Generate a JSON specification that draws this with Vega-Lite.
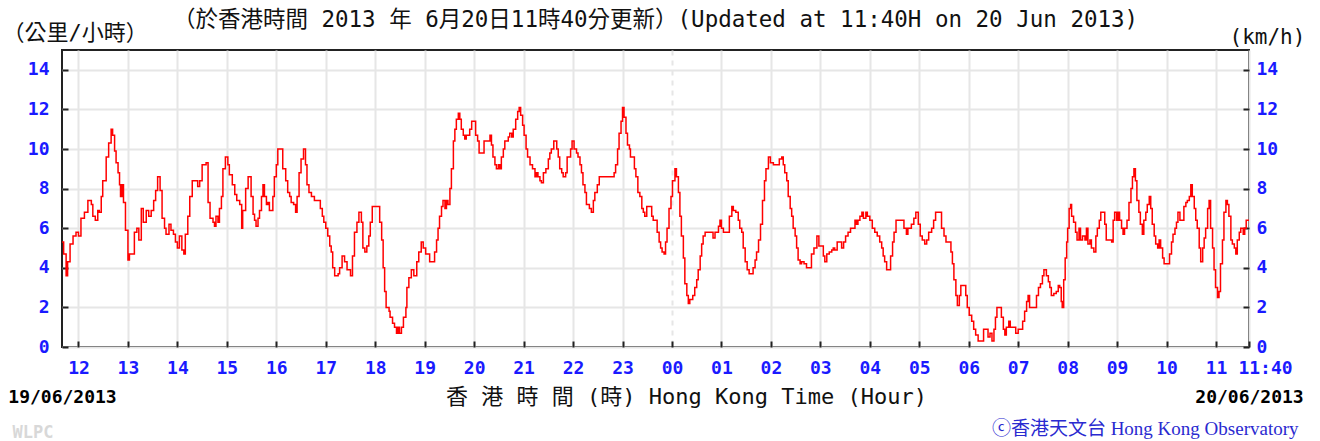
{
"$schema": "https://vega.github.io/schema/vega-lite/v6.json",
"width": 1187, "height": 297,
"autosize": {"type": "none"},
"padding": {"left": 62, "top": 50, "right": 71, "bottom": 94},
"background": "white",
"view": {"stroke": "#222222", "strokeWidth": 2},
"data": {"values": [
{"t":11.667,"v":5.3},{"t":11.70,"v":4.7},{"t":11.75,"v":3.6},{"t":11.78,"v":4.3},{"t":11.83,"v":5.2},{"t":11.89,"v":5.6},{"t":11.95,"v":5.8},{"t":12.00,"v":5.6},{"t":12.05,"v":6.5},{"t":12.12,"v":6.8},{"t":12.19,"v":7.4},{"t":12.26,"v":7.2},{"t":12.29,"v":6.6},{"t":12.34,"v":6.4},{"t":12.39,"v":6.9},{"t":12.42,"v":6.8},{"t":12.46,"v":7.6},{"t":12.49,"v":8.4},{"t":12.56,"v":9.6},{"t":12.61,"v":10.3},{"t":12.66,"v":11.0},{"t":12.69,"v":10.7},{"t":12.73,"v":9.9},{"t":12.76,"v":9.3},{"t":12.80,"v":8.8},{"t":12.83,"v":8.2},{"t":12.85,"v":7.6},{"t":12.88,"v":8.2},{"t":12.91,"v":7.3},{"t":12.95,"v":5.9},
{"t":13.00,"v":4.4},{"t":13.03,"v":4.7},{"t":13.09,"v":4.7},{"t":13.13,"v":5.8},{"t":13.18,"v":6.0},{"t":13.22,"v":5.4},{"t":13.27,"v":7.0},{"t":13.31,"v":6.3},{"t":13.37,"v":6.9},{"t":13.42,"v":6.6},{"t":13.47,"v":6.9},{"t":13.52,"v":7.4},{"t":13.56,"v":7.9},{"t":13.60,"v":8.6},{"t":13.65,"v":7.9},{"t":13.69,"v":6.5},{"t":13.74,"v":6.0},{"t":13.77,"v":5.7},{"t":13.83,"v":6.2},{"t":13.87,"v":5.9},{"t":13.92,"v":5.7},{"t":13.96,"v":5.3},
{"t":14.00,"v":5.0},{"t":14.04,"v":5.6},{"t":14.09,"v":4.9},{"t":14.13,"v":4.7},{"t":14.16,"v":5.7},{"t":14.21,"v":6.6},{"t":14.25,"v":7.6},{"t":14.30,"v":8.4},{"t":14.38,"v":8.4},{"t":14.41,"v":8.1},{"t":14.45,"v":8.4},{"t":14.50,"v":9.2},{"t":14.58,"v":9.3},{"t":14.62,"v":7.3},{"t":14.66,"v":6.5},{"t":14.72,"v":6.3},{"t":14.75,"v":6.1},{"t":14.78,"v":6.6},{"t":14.82,"v":6.3},{"t":14.85,"v":7.0},{"t":14.89,"v":7.6},{"t":14.92,"v":9.0},{"t":14.97,"v":9.6},
{"t":15.02,"v":9.2},{"t":15.05,"v":8.7},{"t":15.11,"v":8.2},{"t":15.16,"v":7.7},{"t":15.20,"v":7.4},{"t":15.26,"v":7.2},{"t":15.30,"v":6.0},{"t":15.32,"v":6.9},{"t":15.38,"v":8.0},{"t":15.43,"v":8.6},{"t":15.46,"v":8.6},{"t":15.49,"v":7.6},{"t":15.53,"v":6.7},{"t":15.56,"v":6.4},{"t":15.59,"v":6.1},{"t":15.63,"v":6.5},{"t":15.66,"v":6.9},{"t":15.70,"v":7.6},{"t":15.73,"v":8.2},{"t":15.76,"v":7.6},{"t":15.80,"v":7.2},{"t":15.83,"v":7.3},{"t":15.86,"v":6.9},{"t":15.90,"v":6.9},{"t":15.93,"v":7.6},{"t":15.96,"v":8.6},
{"t":16.00,"v":9.2},{"t":16.03,"v":10.0},{"t":16.10,"v":10.0},{"t":16.13,"v":9.0},{"t":16.19,"v":8.4},{"t":16.23,"v":7.8},{"t":16.27,"v":7.6},{"t":16.30,"v":7.3},{"t":16.35,"v":7.2},{"t":16.39,"v":6.8},{"t":16.42,"v":7.6},{"t":16.46,"v":8.8},{"t":16.50,"v":9.5},{"t":16.55,"v":10.0},{"t":16.59,"v":9.2},{"t":16.62,"v":8.2},{"t":16.66,"v":7.8},{"t":16.71,"v":7.6},{"t":16.74,"v":7.6},{"t":16.77,"v":7.4},{"t":16.84,"v":7.4},{"t":16.89,"v":7.0},{"t":16.93,"v":6.6},{"t":16.96,"v":6.3},
{"t":17.00,"v":6.0},{"t":17.04,"v":5.6},{"t":17.08,"v":5.1},{"t":17.11,"v":4.8},{"t":17.14,"v":4.0},{"t":17.18,"v":3.6},{"t":17.25,"v":3.7},{"t":17.28,"v":4.0},{"t":17.33,"v":4.6},{"t":17.38,"v":4.3},{"t":17.43,"v":3.9},{"t":17.47,"v":3.9},{"t":17.50,"v":3.6},{"t":17.54,"v":4.6},{"t":17.58,"v":5.8},{"t":17.63,"v":6.3},{"t":17.67,"v":6.8},{"t":17.72,"v":6.3},{"t":17.75,"v":5.0},{"t":17.79,"v":4.8},{"t":17.83,"v":5.1},{"t":17.87,"v":5.6},{"t":17.90,"v":6.3},{"t":17.94,"v":7.1},
{"t":18.06,"v":7.1},{"t":18.09,"v":6.3},{"t":18.13,"v":5.4},{"t":18.16,"v":4.0},{"t":18.19,"v":2.8},{"t":18.22,"v":2.0},{"t":18.28,"v":1.8},{"t":18.30,"v":1.5},{"t":18.35,"v":1.2},{"t":18.39,"v":1.0},{"t":18.43,"v":0.7},{"t":18.46,"v":1.0},{"t":18.49,"v":0.7},{"t":18.53,"v":1.0},{"t":18.57,"v":1.5},{"t":18.62,"v":2.0},{"t":18.64,"v":3.0},{"t":18.68,"v":3.5},{"t":18.73,"v":3.9},{"t":18.78,"v":3.6},{"t":18.82,"v":3.6},{"t":18.84,"v":4.3},{"t":18.88,"v":4.8},{"t":18.93,"v":5.3},{"t":18.97,"v":5.0},
{"t":19.02,"v":4.7},{"t":19.07,"v":4.7},{"t":19.10,"v":4.3},{"t":19.17,"v":4.3},{"t":19.20,"v":4.8},{"t":19.24,"v":5.4},{"t":19.27,"v":6.0},{"t":19.30,"v":6.6},{"t":19.34,"v":7.1},{"t":19.37,"v":7.4},{"t":19.41,"v":7.0},{"t":19.44,"v":7.4},{"t":19.47,"v":7.2},{"t":19.51,"v":8.0},{"t":19.54,"v":9.0},{"t":19.58,"v":10.4},{"t":19.61,"v":11.0},{"t":19.64,"v":11.5},{"t":19.68,"v":11.8},{"t":19.71,"v":11.5},{"t":19.74,"v":11.0},{"t":19.78,"v":10.7},{"t":19.81,"v":10.5},{"t":19.84,"v":10.7},{"t":19.88,"v":10.7},{"t":19.91,"v":11.0},{"t":19.95,"v":11.4},
{"t":20.00,"v":11.4},{"t":20.03,"v":10.7},{"t":20.07,"v":10.4},{"t":20.10,"v":9.8},{"t":20.17,"v":9.8},{"t":20.20,"v":10.4},{"t":20.28,"v":10.4},{"t":20.32,"v":10.7},{"t":20.35,"v":10.2},{"t":20.38,"v":9.6},{"t":20.42,"v":9.2},{"t":20.45,"v":9.0},{"t":20.49,"v":9.2},{"t":20.52,"v":9.0},{"t":20.55,"v":9.6},{"t":20.59,"v":10.0},{"t":20.62,"v":10.4},{"t":20.69,"v":10.6},{"t":20.72,"v":10.8},{"t":20.76,"v":10.6},{"t":20.79,"v":11.0},{"t":20.84,"v":11.5},{"t":20.88,"v":11.9},{"t":20.91,"v":12.1},{"t":20.94,"v":11.7},{"t":20.98,"v":11.2},
{"t":21.01,"v":10.7},{"t":21.05,"v":10.0},{"t":21.08,"v":9.6},{"t":21.13,"v":9.2},{"t":21.18,"v":9.0},{"t":21.23,"v":8.6},{"t":21.26,"v":8.8},{"t":21.29,"v":8.6},{"t":21.33,"v":8.4},{"t":21.36,"v":8.3},{"t":21.40,"v":8.8},{"t":21.45,"v":9.0},{"t":21.50,"v":9.5},{"t":21.53,"v":9.8},{"t":21.56,"v":10.0},{"t":21.61,"v":10.4},{"t":21.67,"v":10.0},{"t":21.70,"v":9.6},{"t":21.73,"v":9.0},{"t":21.77,"v":8.8},{"t":21.80,"v":8.6},{"t":21.85,"v":8.8},{"t":21.88,"v":9.6},{"t":21.92,"v":9.6},{"t":21.95,"v":10.0},{"t":21.98,"v":10.4},
{"t":22.02,"v":10.0},{"t":22.07,"v":9.8},{"t":22.10,"v":9.6},{"t":22.14,"v":9.2},{"t":22.17,"v":8.8},{"t":22.20,"v":8.2},{"t":22.24,"v":7.8},{"t":22.27,"v":7.2},{"t":22.33,"v":7.0},{"t":22.37,"v":6.8},{"t":22.41,"v":7.4},{"t":22.44,"v":7.8},{"t":22.49,"v":8.2},{"t":22.53,"v":8.6},{"t":22.58,"v":8.6},{"t":22.68,"v":8.6},{"t":22.78,"v":8.6},{"t":22.83,"v":8.8},{"t":22.86,"v":9.2},{"t":22.90,"v":10.0},{"t":22.93,"v":10.8},{"t":22.97,"v":11.4},
{"t":23.00,"v":12.1},{"t":23.03,"v":11.6},{"t":23.07,"v":10.8},{"t":23.10,"v":10.2},{"t":23.14,"v":10.0},{"t":23.16,"v":9.6},{"t":23.20,"v":9.6},{"t":23.24,"v":9.0},{"t":23.27,"v":8.6},{"t":23.31,"v":7.8},{"t":23.35,"v":7.6},{"t":23.39,"v":7.0},{"t":23.42,"v":6.8},{"t":23.45,"v":6.6},{"t":23.49,"v":7.1},{"t":23.55,"v":7.1},{"t":23.59,"v":6.6},{"t":23.62,"v":6.4},{"t":23.67,"v":6.4},{"t":23.70,"v":5.8},{"t":23.74,"v":5.3},{"t":23.77,"v":5.0},{"t":23.80,"v":4.8},{"t":23.84,"v":4.7},{"t":23.87,"v":5.3},{"t":23.90,"v":6.0},{"t":23.94,"v":7.0},{"t":23.98,"v":7.6},
{"t":24.01,"v":8.4},{"t":24.06,"v":9.0},{"t":24.09,"v":8.6},{"t":24.13,"v":7.8},{"t":24.16,"v":6.6},{"t":24.19,"v":5.6},{"t":24.23,"v":4.5},{"t":24.26,"v":3.2},{"t":24.30,"v":2.6},{"t":24.33,"v":2.2},{"t":24.36,"v":2.4},{"t":24.42,"v":2.6},{"t":24.46,"v":3.0},{"t":24.50,"v":3.4},{"t":24.53,"v":3.9},{"t":24.57,"v":4.6},{"t":24.60,"v":5.2},{"t":24.63,"v":5.6},{"t":24.67,"v":5.8},{"t":24.77,"v":5.8},{"t":24.83,"v":5.5},{"t":24.87,"v":5.8},{"t":24.94,"v":6.1},{"t":24.97,"v":6.4},
{"t":25.00,"v":6.0},{"t":25.04,"v":5.8},{"t":25.12,"v":5.8},{"t":25.16,"v":6.6},{"t":25.21,"v":7.1},{"t":25.24,"v":6.9},{"t":25.29,"v":6.8},{"t":25.34,"v":6.4},{"t":25.37,"v":6.0},{"t":25.41,"v":5.8},{"t":25.44,"v":5.0},{"t":25.48,"v":4.3},{"t":25.52,"v":3.9},{"t":25.56,"v":3.7},{"t":25.61,"v":3.7},{"t":25.64,"v":4.0},{"t":25.68,"v":4.4},{"t":25.71,"v":4.8},{"t":25.75,"v":5.4},{"t":25.79,"v":6.2},{"t":25.83,"v":7.4},{"t":25.87,"v":8.4},{"t":25.90,"v":9.0},{"t":25.95,"v":9.6},{"t":25.99,"v":9.3},
{"t":26.05,"v":9.2},{"t":26.12,"v":9.2},{"t":26.17,"v":9.5},{"t":26.22,"v":9.6},{"t":26.25,"v":9.2},{"t":26.28,"v":8.8},{"t":26.32,"v":8.4},{"t":26.35,"v":7.6},{"t":26.39,"v":7.0},{"t":26.42,"v":6.6},{"t":26.45,"v":6.0},{"t":26.49,"v":5.6},{"t":26.52,"v":5.0},{"t":26.55,"v":4.4},{"t":26.59,"v":4.2},{"t":26.62,"v":4.3},{"t":26.67,"v":4.2},{"t":26.72,"v":4.0},{"t":26.78,"v":4.0},{"t":26.82,"v":4.7},{"t":26.87,"v":5.0},{"t":26.93,"v":5.6},{"t":26.97,"v":5.1},
{"t":27.03,"v":5.1},{"t":27.06,"v":4.6},{"t":27.09,"v":4.3},{"t":27.13,"v":4.7},{"t":27.18,"v":4.8},{"t":27.23,"v":4.9},{"t":27.26,"v":5.0},{"t":27.29,"v":4.9},{"t":27.34,"v":5.3},{"t":27.39,"v":5.3},{"t":27.43,"v":5.0},{"t":27.47,"v":5.3},{"t":27.51,"v":5.6},{"t":27.56,"v":5.8},{"t":27.61,"v":6.0},{"t":27.66,"v":6.0},{"t":27.70,"v":6.4},{"t":27.73,"v":6.2},{"t":27.76,"v":6.4},{"t":27.80,"v":6.6},{"t":27.84,"v":6.8},{"t":27.87,"v":6.5},{"t":27.92,"v":6.8},{"t":27.95,"v":6.6},
{"t":28.00,"v":6.4},{"t":28.05,"v":6.0},{"t":28.10,"v":5.8},{"t":28.15,"v":5.6},{"t":28.20,"v":5.3},{"t":28.24,"v":5.0},{"t":28.27,"v":4.6},{"t":28.30,"v":4.3},{"t":28.34,"v":3.9},{"t":28.39,"v":3.9},{"t":28.42,"v":4.6},{"t":28.46,"v":5.3},{"t":28.49,"v":5.8},{"t":28.53,"v":6.4},{"t":28.64,"v":6.4},{"t":28.69,"v":6.0},{"t":28.74,"v":5.7},{"t":28.77,"v":6.0},{"t":28.84,"v":6.2},{"t":28.89,"v":6.5},{"t":28.93,"v":6.8},{"t":28.98,"v":6.2},
{"t":29.02,"v":5.6},{"t":29.06,"v":5.4},{"t":29.11,"v":5.2},{"t":29.15,"v":5.4},{"t":29.19,"v":5.8},{"t":29.25,"v":6.0},{"t":29.29,"v":6.4},{"t":29.33,"v":6.8},{"t":29.40,"v":6.8},{"t":29.45,"v":6.0},{"t":29.50,"v":5.6},{"t":29.54,"v":5.3},{"t":29.60,"v":5.3},{"t":29.64,"v":4.8},{"t":29.67,"v":4.2},{"t":29.70,"v":3.4},{"t":29.74,"v":2.6},{"t":29.77,"v":2.1},{"t":29.81,"v":2.6},{"t":29.84,"v":3.1},{"t":29.90,"v":3.1},{"t":29.94,"v":2.6},{"t":29.97,"v":2.0},
{"t":30.01,"v":1.6},{"t":30.06,"v":1.3},{"t":30.10,"v":0.9},{"t":30.14,"v":0.6},{"t":30.19,"v":0.3},{"t":30.26,"v":0.3},{"t":30.30,"v":0.9},{"t":30.36,"v":0.9},{"t":30.39,"v":0.5},{"t":30.43,"v":0.7},{"t":30.47,"v":0.3},{"t":30.51,"v":0.9},{"t":30.54,"v":1.5},{"t":30.57,"v":2.0},{"t":30.63,"v":2.0},{"t":30.66,"v":1.5},{"t":30.70,"v":0.9},{"t":30.73,"v":0.6},{"t":30.76,"v":1.0},{"t":30.81,"v":1.3},{"t":30.84,"v":1.0},{"t":30.90,"v":1.0},{"t":30.95,"v":0.7},
{"t":31.00,"v":0.9},{"t":31.05,"v":0.9},{"t":31.09,"v":1.3},{"t":31.13,"v":1.8},{"t":31.17,"v":2.3},{"t":31.20,"v":2.6},{"t":31.23,"v":2.0},{"t":31.34,"v":2.0},{"t":31.37,"v":2.6},{"t":31.41,"v":3.0},{"t":31.45,"v":3.2},{"t":31.49,"v":3.6},{"t":31.52,"v":3.9},{"t":31.57,"v":3.6},{"t":31.61,"v":3.3},{"t":31.64,"v":3.0},{"t":31.67,"v":2.6},{"t":31.72,"v":2.7},{"t":31.77,"v":2.8},{"t":31.81,"v":3.1},{"t":31.84,"v":3.0},{"t":31.87,"v":2.3},{"t":31.89,"v":2.0},{"t":31.92,"v":3.4},{"t":31.95,"v":4.5},{"t":31.98,"v":5.3},
{"t":32.00,"v":6.0},{"t":32.03,"v":7.0},{"t":32.06,"v":7.2},{"t":32.08,"v":6.6},{"t":32.12,"v":6.3},{"t":32.16,"v":5.8},{"t":32.19,"v":5.4},{"t":32.23,"v":6.0},{"t":32.26,"v":5.4},{"t":32.30,"v":5.6},{"t":32.35,"v":5.4},{"t":32.38,"v":6.0},{"t":32.41,"v":5.2},{"t":32.45,"v":5.4},{"t":32.48,"v":5.0},{"t":32.53,"v":4.8},{"t":32.57,"v":5.6},{"t":32.60,"v":6.0},{"t":32.64,"v":6.4},{"t":32.67,"v":6.8},{"t":32.72,"v":6.8},{"t":32.75,"v":6.2},{"t":32.78,"v":5.4},{"t":32.83,"v":5.4},{"t":32.89,"v":5.3},{"t":32.92,"v":6.4},{"t":32.95,"v":6.8},{"t":32.99,"v":6.4},
{"t":33.02,"v":6.8},{"t":33.05,"v":6.4},{"t":33.09,"v":6.0},{"t":33.12,"v":5.7},{"t":33.15,"v":6.0},{"t":33.20,"v":6.4},{"t":33.24,"v":7.3},{"t":33.28,"v":8.0},{"t":33.31,"v":8.6},{"t":33.34,"v":9.0},{"t":33.37,"v":8.4},{"t":33.40,"v":7.4},{"t":33.44,"v":6.8},{"t":33.47,"v":6.2},{"t":33.51,"v":5.7},{"t":33.54,"v":6.4},{"t":33.58,"v":6.8},{"t":33.61,"v":7.2},{"t":33.65,"v":7.6},{"t":33.68,"v":7.0},{"t":33.71,"v":6.2},{"t":33.75,"v":5.6},{"t":33.78,"v":5.2},{"t":33.82,"v":5.0},{"t":33.85,"v":5.4},{"t":33.88,"v":5.0},{"t":33.92,"v":4.5},{"t":33.95,"v":4.2},
{"t":34.03,"v":4.2},{"t":34.06,"v":4.7},{"t":34.10,"v":5.3},{"t":34.13,"v":5.7},{"t":34.17,"v":6.0},{"t":34.20,"v":6.3},{"t":34.23,"v":6.8},{"t":34.27,"v":6.4},{"t":34.32,"v":6.4},{"t":34.35,"v":7.1},{"t":34.39,"v":7.3},{"t":34.42,"v":7.4},{"t":34.46,"v":7.6},{"t":34.49,"v":8.2},{"t":34.52,"v":7.6},{"t":34.56,"v":7.0},{"t":34.59,"v":6.4},{"t":34.62,"v":6.0},{"t":34.66,"v":5.0},{"t":34.69,"v":4.3},{"t":34.73,"v":5.0},{"t":34.76,"v":5.5},{"t":34.79,"v":6.0},{"t":34.83,"v":7.0},{"t":34.86,"v":7.4},{"t":34.89,"v":6.0},{"t":34.93,"v":5.0},{"t":34.96,"v":3.9},{"t":34.99,"v":3.0},
{"t":35.03,"v":2.5},{"t":35.06,"v":2.8},{"t":35.09,"v":4.2},{"t":35.13,"v":5.4},{"t":35.16,"v":6.8},{"t":35.20,"v":7.4},{"t":35.23,"v":7.2},{"t":35.26,"v":6.6},{"t":35.30,"v":5.4},{"t":35.33,"v":5.2},{"t":35.37,"v":5.0},{"t":35.40,"v":4.7},{"t":35.43,"v":5.4},{"t":35.47,"v":5.8},{"t":35.50,"v":6.0},{"t":35.55,"v":5.7},{"t":35.58,"v":6.0},{"t":35.61,"v":6.4},{"t":35.667,"v":6.4}
]},
"layer": [
{
"mark": {"type": "line", "color": "#ff0000", "strokeWidth": 1.5, "interpolate": "step-after"},
"encoding": {
"x": {"field": "t", "type": "quantitative", "scale": {"domain": [11.6667, 35.6667], "nice": false, "zero": false},
"axis": {"orient": "bottom", "values": [12,13,14,15,16,17,18,19,20,21,22,23,24,25,26,27,28,29,30,31,32,33,34,35,35.6667],
"labelExpr": "datum.value > 35.5 ? '11:40' : ((datum.value % 24) < 10 ? '0' : '') + (datum.value % 24)",
"labelFont": "DejaVu Sans Mono", "labelFontSize": 18, "labelFontWeight": "bold", "labelColor": "#1a1aff",
"labelPadding": 18, "labelOverlap": false, "labelFlush": false, "labelBound": false, "labelAlign": "center",
"labelOffset": {"condition": {"test": "datum.value > 35.5", "value": 16}, "value": 0},
"tickSize": -6, "tickColor": "#222222", "tickWidth": 2, "domain": false,
"grid": true, "gridColor": "#e6e6e6", "gridWidth": 2,
"gridDash": {"condition": {"test": "datum.value == 24", "value": [5, 5]}, "value": []},
"title": "香 港 時 間 (時) Hong Kong Time (Hour)", "titleX": 624, "titleY": 49, "titleAlign": "center", "titleBaseline": "middle", "titleAnchor": "start",
"titleFont": "DejaVu Sans Mono, Noto Sans CJK TC", "titleFontSize": 22, "titleFontWeight": "normal", "titleColor": "#111111"}},
"y": {"field": "v", "type": "quantitative", "scale": {"domain": [0, 15], "nice": false},
"axis": {"orient": "left", "values": [0,2,4,6,8,10,12,14],
"labelFont": "DejaVu Sans Mono", "labelFontSize": 18, "labelFontWeight": "bold", "labelColor": "#1a1aff", "labelPadding": 19,
"tickSize": -6, "tickColor": "#222222", "tickWidth": 2, "domain": false,
"grid": true, "gridColor": "#e6e6e6", "gridWidth": 2,
"title": "（公里/小時）", "titleAngle": 0, "titleX": -60, "titleY": -18, "titleAlign": "left", "titleBaseline": "middle",
"titleFont": "DejaVu Sans Mono, Noto Sans CJK TC", "titleFontSize": 22, "titleFontWeight": "normal", "titleColor": "#111111"}}
}
},
{
"mark": {"type": "line", "opacity": 0},
"encoding": {
"x": {"field": "t", "type": "quantitative", "scale": {"domain": [11.6667, 35.6667], "nice": false, "zero": false},
"axis": {"orient": "bottom", "values": [11.6667, 35.6667],
"labelExpr": "datum.value < 20 ? '19/06/2013' : '20/06/2013'",
"labelFont": "DejaVu Sans Mono", "labelFontSize": 18, "labelFontWeight": "bold", "labelColor": "#000000",
"labelPadding": 41, "labelOverlap": false, "labelFlush": false, "labelBound": false, "labelAlign": "center",
"ticks": false, "domain": false, "grid": false,
"title": "ⓒ香港天文台 Hong Kong Observatory", "titleX": 1236, "titleY": 81, "titleAlign": "right", "titleBaseline": "middle", "titleAnchor": "start",
"titleFont": "Liberation Serif, Noto Sans CJK TC", "titleFontSize": 19, "titleFontWeight": "normal", "titleColor": "#2a2ad0"}},
"y": {"field": "v", "type": "quantitative", "scale": {"domain": [0, 15], "nice": false},
"axis": {"orient": "right", "values": [0,2,4,6,8,10,12,14],
"labelFont": "DejaVu Sans Mono", "labelFontSize": 18, "labelFontWeight": "bold", "labelColor": "#1a1aff", "labelPadding": 13,
"tickSize": -6, "tickColor": "#222222", "tickWidth": 2, "domain": false, "grid": false,
"title": "(km/h)", "titleAngle": 0, "titleX": -20, "titleY": -13, "titleAlign": "left", "titleBaseline": "middle",
"titleFont": "DejaVu Sans Mono", "titleFontSize": 21, "titleFontWeight": "normal", "titleColor": "#111111"}}
}
},
{
"mark": {"type": "line", "opacity": 0},
"encoding": {
"x": {"field": "t", "type": "quantitative", "scale": {"domain": [11.6667, 35.6667], "nice": false, "zero": false},
"axis": {"orient": "top", "labels": false, "ticks": false, "domain": false, "grid": false,
"title": "（於香港時間 2013 年 6月20日11時40分更新）(Updated at 11:40H on 20 Jun 2013)", "titleX": 593, "titleY": -31, "titleAlign": "center", "titleBaseline": "middle", "titleAnchor": "start",
"titleFont": "DejaVu Sans Mono, Noto Sans CJK TC", "titleFontSize": 22.5, "titleFontWeight": "normal", "titleColor": "#111111"}},
"y": {"field": "v", "type": "quantitative", "scale": {"domain": [0, 15], "nice": false}, "axis": null}
}
},
{
"mark": {"type": "line", "opacity": 0},
"encoding": {
"x": {"field": "t", "type": "quantitative", "scale": {"domain": [11.6667, 35.6667], "nice": false, "zero": false},
"axis": {"orient": "bottom", "labels": false, "ticks": false, "domain": false, "grid": false,
"title": "WLPC", "titleX": -50, "titleY": 85, "titleAlign": "left", "titleBaseline": "middle", "titleAnchor": "start",
"titleFont": "DejaVu Sans Mono", "titleFontSize": 17, "titleFontWeight": "bold", "titleColor": "#d8d8d8"}},
"y": {"field": "v", "type": "quantitative", "scale": {"domain": [0, 15], "nice": false}, "axis": null}
}
}
],
"resolve": {"axis": {"x": "independent", "y": "independent"}}
}
